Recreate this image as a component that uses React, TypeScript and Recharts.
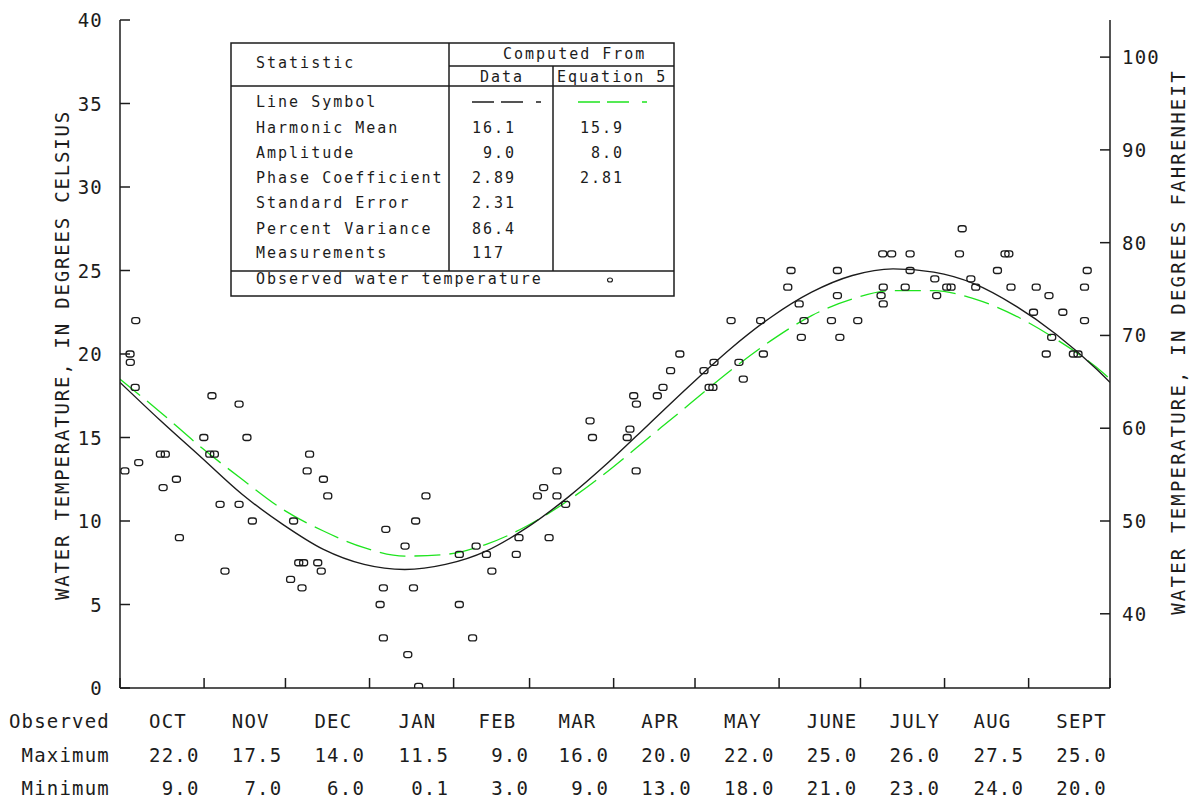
import React from 'react';
// npm
import { ComposedChart, Line, Scatter, XAxis, YAxis } from 'recharts';

const FONT = '"DejaVu Sans Mono", monospace';
const INK = '#1c1c1c';
const GREEN = '#1ee41e';

const CHART_W = 1191;
const CHART_H = 804;
const AXIS_LEFT = 120;
const AXIS_RIGHT = 81;

// days of the water year (Oct 1 = day 0)
const monthStarts = [0, 31, 61, 92, 123, 151, 182, 212, 243, 273, 304, 335, 365];
const monthNames = ['OCT', 'NOV', 'DEC', 'JAN', 'FEB', 'MAR', 'APR', 'MAY', 'JUNE', 'JULY', 'AUG', 'SEPT'];
const monthMax = ['22.0', '17.5', '14.0', '11.5', ' 9.0', '16.0', '20.0', '22.0', '25.0', '26.0', '27.5', '25.0'];
const monthMin = [' 9.0', ' 7.0', ' 6.0', ' 0.1', ' 3.0', ' 9.0', '13.0', '18.0', '21.0', '23.0', '24.0', '20.0'];

const celsiusTicks = [0, 5, 10, 15, 20, 25, 30, 35, 40];
const fahrenheitTicks = [40, 50, 60, 70, 80, 90, 100];

// fitted curves
const curveDays = [0, 15, 30, 45, 60, 75, 90, 105, 120, 135, 150, 165, 180, 195, 210, 225, 240, 255, 270, 285, 300, 315, 330, 345, 360, 365];
const dataCurve = [18.3, 16.0, 13.8, 11.6, 9.8, 8.3, 7.4, 7.1, 7.4, 8.2, 9.6, 11.4, 13.5, 15.8, 18.1, 20.3, 22.2, 23.7, 24.7, 25.1, 24.9, 24.2, 22.9, 21.2, 19.1, 18.3];
const equationCurve = [18.5, 16.5, 14.4, 12.5, 10.7, 9.4, 8.4, 7.9, 8.0, 8.6, 9.7, 11.2, 13.0, 15.0, 17.0, 19.0, 20.8, 22.3, 23.3, 23.8, 23.8, 23.3, 22.3, 20.9, 19.2, 18.5];

// observed water temperature [day, degC]
const observed: [number, number][] = [
  [5.8, 22.0], [3.7, 20.0], [3.8, 19.5], [5.6, 18.0], [33.9, 17.5], [43.9, 17.0], [30.9, 15.0], [46.8, 15.0],
  [14.9, 14.0], [16.7, 14.0], [33.1, 14.0], [34.8, 14.0], [6.9, 13.5], [1.8, 13.0], [15.9, 12.0], [20.8, 12.5],
  [21.9, 9.0], [36.9, 11.0], [43.9, 11.0], [48.8, 10.0], [38.7, 7.0], [69.9, 14.0], [69.0, 13.0], [75.0, 12.5],
  [76.6, 11.5], [64.0, 10.0], [65.9, 7.5], [67.7, 7.5], [72.9, 7.5], [74.2, 7.0], [62.9, 6.5], [67.1, 6.0],
  [112.8, 11.5], [109.0, 10.0], [98.0, 9.5], [105.1, 8.5], [97.1, 6.0], [108.2, 6.0], [95.9, 5.0], [97.1, 3.0],
  [106.1, 2.0], [110.1, 0.1], [125.1, 8.0], [131.3, 8.5], [135.1, 8.0], [137.1, 7.0], [125.1, 5.0], [130.0, 3.0],
  [147.1, 9.0], [146.1, 8.0], [153.9, 11.5], [158.2, 9.0], [156.2, 12.0], [161.1, 11.5], [161.1, 13.0], [164.3, 11.0],
  [190.3, 13.0], [225.3, 22.0], [206.4, 20.0], [203.0, 19.0], [200.2, 18.0], [198.1, 17.5], [189.4, 17.5], [190.4, 17.0],
  [188.0, 15.5], [187.0, 15.0], [173.3, 16.0], [174.2, 15.0], [215.3, 19.0], [219.0, 19.5], [217.2, 18.0], [218.6, 18.0],
  [228.2, 19.5], [229.8, 18.5], [247.4, 25.0], [264.5, 25.0], [246.2, 24.0], [264.5, 23.5], [250.4, 23.0], [236.2, 22.0],
  [252.2, 22.0], [262.3, 22.0], [272.0, 22.0], [251.2, 21.0], [265.4, 21.0], [237.2, 20.0], [281.2, 26.0], [284.5, 26.0],
  [281.4, 24.0], [280.6, 23.5], [281.4, 23.0], [291.3, 26.0], [291.3, 25.0], [289.5, 24.0], [300.4, 24.5], [301.1, 23.5],
  [310.5, 27.5], [309.5, 26.0], [326.3, 26.0], [327.7, 26.0], [323.5, 25.0], [356.6, 25.0], [313.7, 24.5], [304.8, 24.0],
  [306.4, 24.0], [315.5, 24.0], [328.5, 24.0], [337.8, 24.0], [355.6, 24.0], [342.5, 23.5], [336.8, 22.5], [347.6, 22.5],
  [355.6, 22.0], [343.5, 21.0], [341.5, 20.0], [351.5, 20.0], [353.2, 20.0],
];

// table in the plot
const statLabels = ['Line Symbol', 'Harmonic Mean', 'Amplitude', 'Phase Coefficient', 'Standard Error', 'Percent Variance', 'Measurements'];
const statData = ['', '16.1', ' 9.0', '2.89', '2.31', '86.4', '117'];
const statEquation = ['', '15.9', ' 8.0', '2.81', '', '', ''];

const curveData = curveDays.map((day, i) => ({ day, data: dataCurve[i], eq: equationCurve[i] }));
const obsData = observed.map(([day, temp]) => ({ day, temp }));

const pxPerDay = (CHART_W - AXIS_LEFT - AXIS_RIGHT) / 365;

const textStyle = { fontFamily: FONT, fontSize: 19, letterSpacing: 1.2, fill: INK, whiteSpace: 'pre' as const };
const tableStyle = { fontFamily: FONT, fontSize: 15, letterSpacing: 2, fill: INK, whiteSpace: 'pre' as const };

const LeftTick = ({ x, y, payload }: any) => (
  <g>
    <line x1={x} y1={y} x2={x + 10} y2={y} stroke={INK} strokeWidth={1.5} />
    <text x={x - 17} y={y} textAnchor="end" dominantBaseline="central" style={textStyle}>
      {payload.value}
    </text>
  </g>
);

const RightTick = ({ x, y, payload }: any) => (
  <g>
    <line x1={x} y1={y} x2={x - 10} y2={y} stroke={INK} strokeWidth={1.5} />
    <text x={x + 12} y={y} textAnchor="start" dominantBaseline="central" style={textStyle}>
      {payload.value}
    </text>
  </g>
);

// month boundary tick plus the month's observed max/min printed under it
const MonthTick = ({ x, y, index }: any) => {
  const hasMonth = index < monthNames.length;
  const lx = hasMonth ? x + ((monthStarts[index + 1] - monthStarts[index]) / 2) * pxPerDay - 13 : x;
  return (
    <g>
      <line x1={x} y1={y} x2={x} y2={y - 10} stroke={INK} strokeWidth={1.5} />
      {hasMonth && (
        <>
          <text x={lx} y={y + 33} dominantBaseline="central" style={textStyle}>{monthNames[index]}</text>
          <text x={lx} y={y + 67} dominantBaseline="central" style={textStyle}>{monthMax[index]}</text>
          <text x={lx} y={y + 100} dominantBaseline="central" style={textStyle}>{monthMin[index]}</text>
        </>
      )}
    </g>
  );
};

const ObsMarker = ({ cx, cy }: any) => (
  <rect x={cx - 4} y={cy - 3} width={8} height={6} rx={2.5} fill="none" stroke={INK} strokeWidth={1.3} />
);

const rowY = [102, 128, 153, 178, 203, 229, 253];

const StatTable = () => (
  <g>
    <rect x={231} y={43} width={443} height={253} fill="#fff" stroke={INK} strokeWidth={1.5} />
    <line x1={449} y1={43} x2={449} y2={271} stroke={INK} strokeWidth={1.5} />
    <line x1={553} y1={66} x2={553} y2={271} stroke={INK} strokeWidth={1.5} />
    <line x1={449} y1={66} x2={674} y2={66} stroke={INK} strokeWidth={1.5} />
    <line x1={231} y1={86} x2={674} y2={86} stroke={INK} strokeWidth={1.5} />
    <line x1={231} y1={271} x2={674} y2={271} stroke={INK} strokeWidth={1.5} />
    <text x={256} y={63} dominantBaseline="central" style={tableStyle}>Statistic</text>
    <text x={503} y={54} dominantBaseline="central" style={tableStyle}>Computed From</text>
    <text x={480} y={77} dominantBaseline="central" style={tableStyle}>Data</text>
    <text x={557} y={77} dominantBaseline="central" style={tableStyle}>Equation 5</text>
    {statLabels.map((label, i) => (
      <g key={label}>
        <text x={256} y={rowY[i]} dominantBaseline="central" style={tableStyle}>{label}</text>
        <text x={472} y={rowY[i]} dominantBaseline="central" style={tableStyle}>{statData[i]}</text>
        <text x={580} y={rowY[i]} dominantBaseline="central" style={tableStyle}>{statEquation[i]}</text>
      </g>
    ))}
    <line x1={472} y1={102} x2={541} y2={102} stroke={INK} strokeWidth={1.3} strokeDasharray="22 7 22 13 5" />
    <line x1={578} y1={102} x2={647} y2={102} stroke={GREEN} strokeWidth={1.3} strokeDasharray="22 7 22 13 5" />
    <text x={256} y={279} dominantBaseline="central" style={tableStyle}>Observed water temperature</text>
    <ellipse cx={610} cy={280} rx={2.5} ry={2} fill="none" stroke={INK} strokeWidth={1.1} />
  </g>
);

const App = () => (
  <div style={{ position: 'absolute', left: 0, top: 0, background: '#fff' }}>
    <ComposedChart width={CHART_W} height={CHART_H} data={curveData} margin={{ top: 20, right: 0, bottom: 0, left: 0 }}>
      <XAxis
        xAxisId="t"
        type="number"
        dataKey="day"
        domain={[0, 365]}
        ticks={monthStarts}
        interval={0}
        height={116}
        tickLine={false}
        tickSize={0}
        tickMargin={0}
        axisLine={{ stroke: INK, strokeWidth: 1.5 }}
        tick={<MonthTick />}
        allowDataOverflow
      />
      <YAxis
        yAxisId="c"
        domain={[0, 40]}
        ticks={celsiusTicks}
        interval={0}
        width={AXIS_LEFT}
        tickLine={false}
        tickSize={0}
        tickMargin={0}
        axisLine={{ stroke: INK, strokeWidth: 1.5 }}
        tick={<LeftTick />}
        allowDataOverflow
      />
      <YAxis
        yAxisId="f"
        orientation="right"
        domain={[32, 104]}
        ticks={fahrenheitTicks}
        interval={0}
        width={AXIS_RIGHT}
        tickLine={false}
        tickSize={0}
        tickMargin={0}
        axisLine={{ stroke: INK, strokeWidth: 1.5 }}
        tick={<RightTick />}
        allowDataOverflow
      />
      <Line
        xAxisId="t"
        yAxisId="c"
        type="monotone"
        dataKey="eq"
        stroke={GREEN}
        strokeWidth={1.3}
        strokeDasharray="26 9"
        dot={false}
        isAnimationActive={false}
      />
      <Line
        xAxisId="t"
        yAxisId="c"
        type="monotone"
        dataKey="data"
        stroke={INK}
        strokeWidth={1.4}
        dot={false}
        isAnimationActive={false}
      />
      <Scatter
        xAxisId="t"
        yAxisId="c"
        data={obsData}
        dataKey="temp"
        shape={<ObsMarker />}
        isAnimationActive={false}
      />
      <StatTable />
      <text x={110} y={721} textAnchor="end" dominantBaseline="central" style={textStyle}>Observed</text>
      <text x={110} y={755} textAnchor="end" dominantBaseline="central" style={textStyle}>Maximum</text>
      <text x={110} y={788} textAnchor="end" dominantBaseline="central" style={textStyle}>Minimum</text>
      <text
        x={62}
        y={355}
        transform="rotate(-90, 62, 355)"
        textAnchor="middle"
        dominantBaseline="central"
        style={{ ...textStyle, letterSpacing: 1.8 }}
      >
        WATER TEMPERATURE, IN DEGREES CELSIUS
      </text>
      <text
        x={1178}
        y={342}
        transform="rotate(-90, 1178, 342)"
        textAnchor="middle"
        dominantBaseline="central"
        style={{ ...textStyle, letterSpacing: 2.2 }}
      >
        WATER TEMPERATURE, IN DEGREES FAHRENHEIT
      </text>
    </ComposedChart>
  </div>
);

export default App;
